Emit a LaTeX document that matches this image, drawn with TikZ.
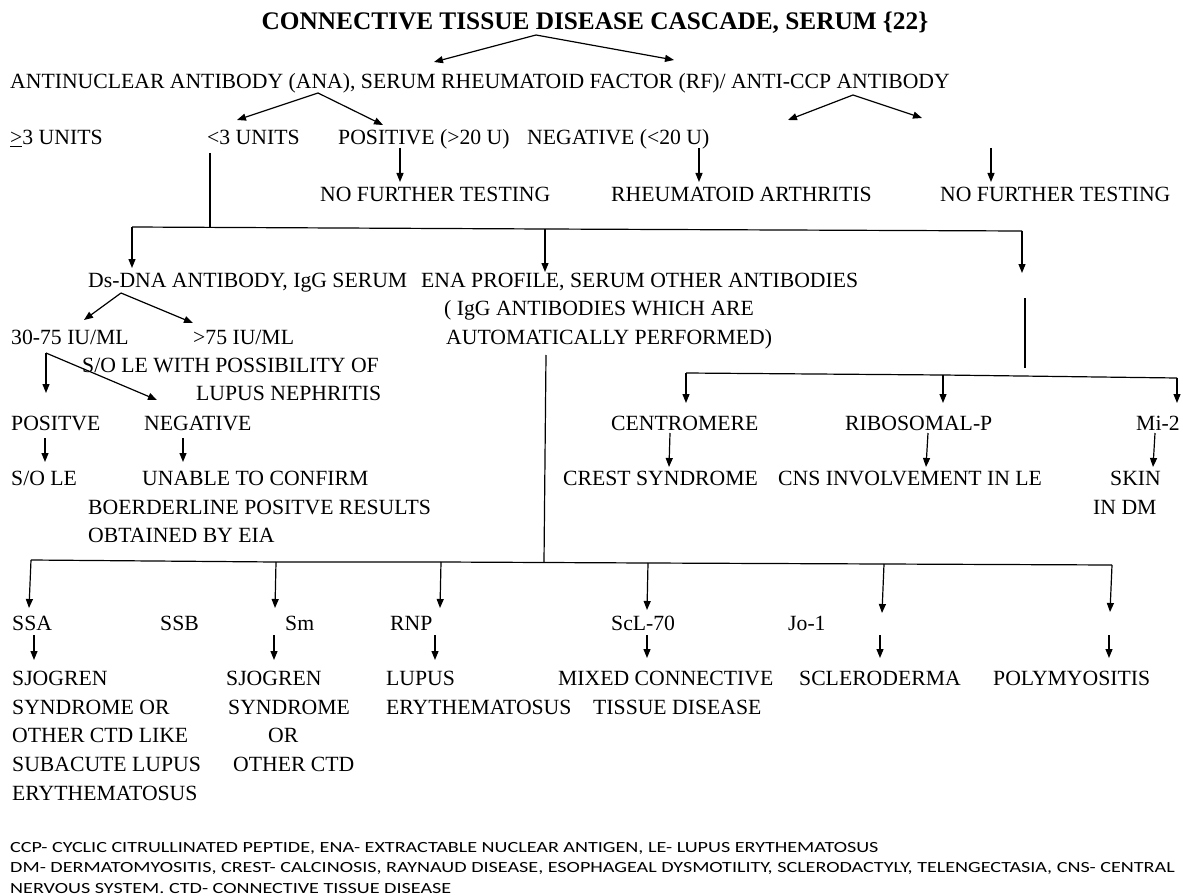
\documentclass[tikz,border=0pt]{standalone}
\usepackage{graphicx}
\usepackage{fontspec}
\setmainfont{Liberation Serif}
\newfontfamily\fnfont{Carlito}
\usetikzlibrary{arrows.meta}
\newcommand\fnline[1]{\scalebox{1.298}[1]{#1}}
\begin{document}
\begin{tikzpicture}[x=1pt,y=-1pt,
  txt/.style={font=\fontsize{21.7}{24}\selectfont, inner sep=0pt, anchor=base west},
  ttl/.style={font=\bfseries\fontsize{25.3}{28}\selectfont, inner sep=0pt, anchor=base},
  foot/.style={font=\fnfont\fontsize{15.5}{17}\selectfont, inner sep=0pt, anchor=base west},
  conn/.style={line width=1.2pt},
  arr/.style={conn,-{Triangle[length=9pt,width=7pt]}}]
\useasboundingbox (0,0) rectangle (1183,896);
\newcommand\Arr[3]{\coordinate (#1s) at (#2); \coordinate (#1e) at (#3); \draw[arr] (#1s) -- (#1e);}
\newcommand\Lin[3]{\coordinate (#1s) at (#2); \coordinate (#1e) at (#3); \draw[conn] (#1s) -- (#1e);}
% texts (baseline = centre + 7)
\node[ttl] (title) at (595,30) {CONNECTIVE TISSUE DISEASE CASCADE, SERUM \{22\}};
\node[txt] (ana) at (10,89) {ANTINUCLEAR ANTIBODY (ANA), SERUM RHEUMATOID FACTOR (RF)/ ANTI-CCP ANTIBODY};
\node[txt] (ge3) at (10,145) {\underline{>}3 UNITS};
\node[txt] (lt3) at (207,145) {<3 UNITS};
\node[txt] (pos) at (338,145) {POSITIVE (>20 U)};
\node[txt] (neg) at (527,145) {NEGATIVE (<20 U)};
\node[txt] (nft1) at (320,202) {NO FURTHER TESTING};
\node[txt] (ra) at (611,202) {RHEUMATOID ARTHRITIS};
\node[txt] (nft2) at (940,202) {NO FURTHER TESTING};
\node[txt] (dsdna) at (88,287) {Ds-DNA ANTIBODY, IgG SERUM};
\node[txt] (ena1) at (421,287) {ENA PROFILE, SERUM OTHER ANTIBODIES};
\node[txt] (ena2) at (444,315) {( IgG ANTIBODIES WHICH ARE};
\node[txt] (ena3) at (446,344) {AUTOMATICALLY PERFORMED)};
\node[txt] (r3075) at (11,344) {30-75 IU/ML};
\node[txt] (r75) at (193,344) {>75 IU/ML};
\node[txt] (sole1) at (82,372) {S/O LE WITH POSSIBILITY OF};
\node[txt] (sole2) at (196,400) {LUPUS NEPHRITIS};
\node[txt] (positve) at (11,430) {POSITVE};
\node[txt] (negative) at (144,430) {NEGATIVE};
\node[txt] (sole) at (11,485) {S/O LE};
\node[txt] (unable1) at (142,485) {UNABLE TO CONFIRM};
\node[txt] (unable2) at (88,514) {BOERDERLINE POSITVE RESULTS};
\node[txt] (unable3) at (88,542) {OBTAINED BY EIA};
\node[txt] (centro) at (611,430) {CENTROMERE};
\node[txt] (ribo) at (845,430) {RIBOSOMAL-P};
\node[txt] (mi2) at (1136,430) {Mi-2};
\node[txt] (crest) at (563,485) {CREST SYNDROME};
\node[txt] (cns) at (778,485) {CNS INVOLVEMENT IN LE};
\node[txt] (skin1) at (1110,485) {SKIN};
\node[txt] (skin2) at (1093,514) {IN DM};
\node[txt] (ssa) at (12,630) {SSA};
\node[txt] (ssb) at (160,630) {SSB};
\node[txt] (sm) at (285,630) {Sm};
\node[txt] (rnp) at (390,630) {RNP};
\node[txt] (scl) at (611,630) {ScL-70};
\node[txt] (jo) at (788,630) {Jo-1};
\node[txt] (sj1) at (12,685) {SJOGREN};
\node[txt] (sj2) at (12,714) {SYNDROME OR};
\node[txt] (sj3) at (12,742) {OTHER CTD LIKE};
\node[txt] (sj4) at (12,771) {SUBACUTE LUPUS};
\node[txt] (sj5) at (12,800) {ERYTHEMATOSUS};
\node[txt] (sg1) at (226,685) {SJOGREN};
\node[txt] (sg2) at (228,714) {SYNDROME};
\node[txt] (sg3) at (268,742) {OR};
\node[txt] (sg4) at (233,771) {OTHER CTD};
\node[txt] (le1) at (386,685) {LUPUS};
\node[txt] (le2) at (386,714) {ERYTHEMATOSUS};
\node[txt] (mctd1) at (558,685) {MIXED CONNECTIVE};
\node[txt] (mctd2) at (593,714) {TISSUE DISEASE};
\node[txt] (sclero) at (799,685) {SCLERODERMA};
\node[txt] (poly) at (993,685) {POLYMYOSITIS};
\node[foot] (f1) at (10,852) {\fnline{CCP- CYCLIC CITRULLINATED PEPTIDE, ENA- EXTRACTABLE NUCLEAR ANTIGEN, LE- LUPUS ERYTHEMATOSUS}};
\node[foot] (f2) at (10,872) {\fnline{DM- DERMATOMYOSITIS, CREST- CALCINOSIS, RAYNAUD DISEASE, ESOPHAGEAL DYSMOTILITY, SCLERODACTYLY, TELENGECTASIA, CNS- CENTRAL}};
\node[foot] (f3) at (10,893) {\fnline{NERVOUS SYSTEM. CTD- CONNECTIVE TISSUE DISEASE}};
% connectors
\coordinate (tapex) at (536,35);
\coordinate (tl) at (434,62); \coordinate (tr) at (674,60);
\draw[arr] (tapex) -- (tl); \draw[arr] (tapex) -- (tr);
\coordinate (aapex) at (318,93);
\coordinate (al) at (237,120); \coordinate (ar) at (383,125);
\draw[arr] (aapex) -- (al); \draw[arr] (aapex) -- (ar);
\coordinate (capex) at (853,95);
\coordinate (cl) at (788,120); \coordinate (cr) at (922,118);
\draw[arr] (capex) -- (cl); \draw[arr] (capex) -- (cr);
\Arr{p1}{400,148}{400,182}
\Arr{p2}{699,148}{699,182}
\Arr{p3}{991,148}{991,182}
\Lin{l1}{210,153}{210,227}
\coordinate (hA) at (132,227); \coordinate (hB) at (545,229); \coordinate (hC) at (1022,231);
\draw[conn] (hA) -- (hB) -- (hC);
\coordinate (hAe) at (132,268); \coordinate (hBe) at (545,272); \coordinate (hCe) at (1022,273);
\draw[arr] (hA) -- (hAe); \draw[arr] (hB) -- (hBe); \draw[arr] (hC) -- (hCe);
\coordinate (dapex) at (121,293);
\coordinate (dl) at (84,320); \coordinate (dr) at (193,323);
\draw[arr] (dapex) -- (dl); \draw[arr] (dapex) -- (dr);
\coordinate (e0) at (46,353);
\coordinate (e1) at (46,393); \coordinate (e2) at (157,400);
\draw[arr] (e0) -- (e1); \draw[arr] (e0) -- (e2);
\Arr{q1}{45,438}{45,462}
\Arr{q2}{183,438}{183,462}
\Lin{l2}{1025,298}{1025,368}
\coordinate (rA) at (686,373); \coordinate (rB) at (943,375); \coordinate (rC) at (1177,378);
\draw[conn] (rA) -- (rB) -- (rC);
\coordinate (rAe) at (686,403); \coordinate (rBe) at (943,403); \coordinate (rCe) at (1177,403);
\draw[arr] (rA) -- (rAe); \draw[arr] (rB) -- (rBe); \draw[arr] (rC) -- (rCe);
\Arr{s1}{670,433}{669,467}
\Arr{s2}{928,433}{926,467}
\Arr{s3}{1155,433}{1153,467}
\Lin{l3}{546,355}{544,562}
\coordinate (bA) at (31,560); \coordinate (bB) at (276,562); \coordinate (bC) at (441,562);
\coordinate (bD) at (648,563); \coordinate (bE) at (884,564); \coordinate (bF) at (1112,565);
\draw[conn] (bA) -- (bB) -- (bC) -- (bD) -- (bE) -- (bF);
\coordinate (bAe) at (29,608); \coordinate (bBe) at (275,608); \coordinate (bCe) at (440,608);
\coordinate (bDe) at (647,610); \coordinate (bEe) at (882,613); \coordinate (bFe) at (1110,612);
\draw[arr] (bA) -- (bAe); \draw[arr] (bB) -- (bBe); \draw[arr] (bC) -- (bCe);
\draw[arr] (bD) -- (bDe); \draw[arr] (bE) -- (bEe); \draw[arr] (bF) -- (bFe);
\Arr{u1}{34,635}{34,660}
\Arr{u2}{274,635}{274,660}
\Arr{u3}{435,635}{435,660}
\Arr{u4}{647,635}{647,658}
\Arr{u5}{880,635}{880,658}
\Arr{u6}{1109,635}{1109,658}
\end{tikzpicture}
\end{document}
